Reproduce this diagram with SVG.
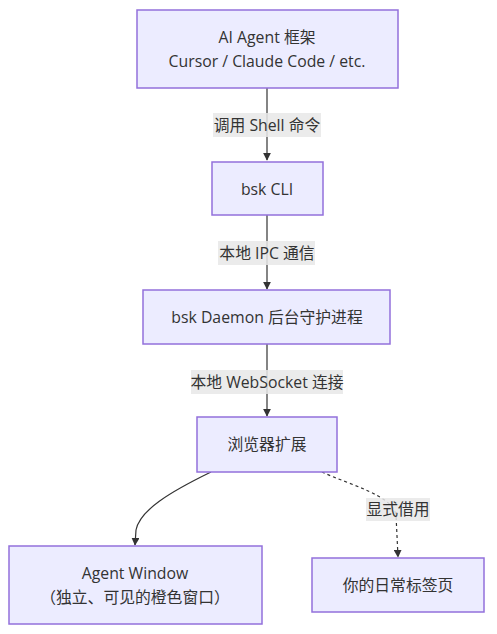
<svg xmlns="http://www.w3.org/2000/svg" width="497" height="634" viewBox="0 0 497 634">
<defs>
<style>
.node rect{fill:#ECECFF;stroke:#9370DB;stroke-width:1.5}
text{font-family:"Open Sans","Noto Sans CJK SC",sans-serif;font-size:15.8px;fill:#333;text-anchor:middle;dominant-baseline:central}
.edge{fill:none;stroke:#333;stroke-width:1.2}
.dash{stroke-dasharray:3 3}
.lbl{fill:#E8E8E8;fill-opacity:0.85}
</style>
<marker id="arr" viewBox="0 0 10 10" refX="9" refY="5" markerWidth="8" markerHeight="8" markerUnits="userSpaceOnUse" orient="auto">
<path d="M0,0 L10,5 L0,10 z" fill="#333"/>
</marker>
</defs>
<rect width="497" height="634" fill="#fff"/>
<g id="edges">
<path class="edge" d="M267,88 V160" marker-end="url(#arr)"/>
<path class="edge" d="M267,215 V289" marker-end="url(#arr)"/>
<path class="edge" d="M267,344 V416" marker-end="url(#arr)"/>
<path class="edge" d="M211,472 C170,492 140,510 136,530 L135,545" marker-end="url(#arr)"/>
<path class="edge dash" d="M322,472 C350,485 392,495 396,515 L398,557" marker-end="url(#arr)"/>
<rect class="lbl" x="213" y="113" width="108" height="24"/>
<text x="267" y="125">调用 Shell 命令</text>
<rect class="lbl" x="218" y="241" width="97" height="24"/>
<text x="267" y="253">本地 IPC 通信</text>
<rect class="lbl" x="191" y="370" width="152" height="24"/>
<text x="267" y="382">本地 WebSocket 连接</text>
<rect class="lbl" x="366" y="498" width="64" height="23"/>
<text x="398" y="509">显式借用</text>
</g>
<g id="agent" class="node">
<rect x="137" y="10" width="261" height="78"/>
<text x="267" y="37">AI Agent 框架</text>
<text x="267" y="61">Cursor / Claude Code / etc.</text>
</g>
<g id="cli" class="node">
<rect x="212" y="162" width="111" height="53"/>
<text x="267" y="189">bsk CLI</text>
</g>
<g id="daemon" class="node">
<rect x="143" y="290" width="247" height="54"/>
<text x="267" y="317">bsk Daemon 后台守护进程</text>
</g>
<g id="ext" class="node">
<rect x="197" y="417" width="140" height="55"/>
<text x="267" y="444">浏览器扩展</text>
</g>
<g id="window" class="node">
<rect x="9" y="546" width="253" height="78"/>
<text x="135" y="573">Agent Window</text>
<text x="135" y="597">（独立、可见的橙色窗口）</text>
</g>
<g id="tabs" class="node">
<rect x="312" y="558" width="172" height="54"/>
<text x="398" y="585">你的日常标签页</text>
</g>
</svg>
